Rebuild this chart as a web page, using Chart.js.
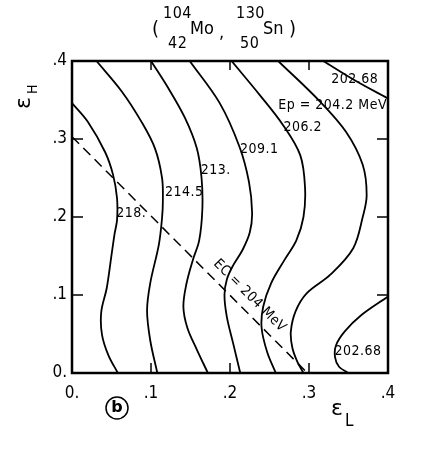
<!DOCTYPE html>
<html>
<head>
<meta charset="utf-8">
<script src="https://cdn.jsdelivr.net/npm/chart.js@4.4.0/dist/chart.umd.min.js"></script>
<style>
  html, body { margin: 0; padding: 0; background: #fff; }
  #wrap { width: 436px; height: 452px; }
</style>
</head>
<body>
<div id="wrap"><canvas id="chart" width="436" height="452"></canvas></div>
<script>
// --- Data (eps_L on x, eps_H on y) ---
const tickValues = [0, 0.1, 0.2, 0.3, 0.4];
const tickLabels = ['0.', '.1', '.2', '.3', '.4'];

const levels = ['218.', '214.5', '213.', '209.1', '206.2', 'Ep = 204.2 MeV', '202.68', '202.68'];

const c218L = [0, 0.020, 0.042, 0.052, 0.057, 0.057, 0.054, 0.050, 0.044, 0.037, 0.038, 0.046, 0.058];
const c218H = [0.346, 0.322, 0.283, 0.254, 0.224, 0.196, 0.179, 0.151, 0.109, 0.078, 0.049, 0.023, 0];

const c2145L = [0.031, 0.063, 0.088, 0.105, 0.114, 0.115, 0.114, 0.110, 0.099, 0.095, 0.099, 0.108];
const c2145H = [0.4, 0.361, 0.322, 0.288, 0.250, 0.220, 0.199, 0.165, 0.115, 0.080, 0.042, 0];

const c213L = [0.100, 0.122, 0.143, 0.158, 0.164, 0.165, 0.161, 0.153, 0.145, 0.141, 0.146, 0.158, 0.172];
const c213H = [0.4, 0.365, 0.327, 0.288, 0.250, 0.210, 0.170, 0.145, 0.115, 0.085, 0.058, 0.030, 0];

const c2091L = [0.149, 0.187, 0.212, 0.224, 0.228, 0.225, 0.216, 0.204, 0.196, 0.193, 0.196, 0.204, 0.213];
const c2091H = [0.4, 0.346, 0.290, 0.245, 0.205, 0.180, 0.158, 0.138, 0.120, 0.100, 0.072, 0.038, 0];

const c2062L = [0.202, 0.238, 0.267, 0.289, 0.295, 0.293, 0.284, 0.269, 0.252, 0.242, 0.240, 0.247, 0.258];
const c2062H = [0.4, 0.356, 0.318, 0.279, 0.237, 0.200, 0.170, 0.145, 0.115, 0.085, 0.058, 0.027, 0];

const c2042L = [0.261, 0.314, 0.347, 0.368, 0.373, 0.368, 0.356, 0.327, 0.297, 0.283, 0.277, 0.279, 0.285, 0.293];
const c2042H = [0.4, 0.348, 0.309, 0.267, 0.228, 0.200, 0.160, 0.126, 0.102, 0.079, 0.053, 0.032, 0.015, 0];

const c20268aL = [0.318, 0.360, 0.4];
const c20268aH = [0.4, 0.374, 0.352];

const c20268bL = [0.4, 0.366, 0.345, 0.334, 0.333, 0.338, 0.350];
const c20268bH = [0.098, 0.074, 0.053, 0.035, 0.020, 0.008, 0];

// Coulomb energy line EC = 204 MeV
const ecL = [0, 0.298];
const ecH = [0.303, 0];

// where each contour value is written (data coords)
const labelL = [0.075, 0.142, 0.182, 0.237, 0.292, 0.330, 0.358, 0.362];
const labelH = [0.205, 0.232, 0.260, 0.287, 0.315, 0.343, 0.377, 0.028];

const zip = (xs, ys) => xs.map((x, i) => ({ x: x, y: ys[i] }));

const contours = [
    [c218L, c218H], [c2145L, c2145H], [c213L, c213H], [c2091L, c2091H],
    [c2062L, c2062H], [c2042L, c2042H], [c20268aL, c20268aH], [c20268bL, c20268bH]
];

const narrow = "'Liberation Sans Narrow', 'DejaVu Sans Condensed', sans-serif";

const datasets = contours.map((c, i) => ({
    label: levels[i],
    data: zip(c[0], c[1]),
    showLine: true,
    borderColor: '#000',
    borderWidth: 1.8,
    pointRadius: 0,
    tension: 0.35,
    fill: false
}));
datasets.push({
    label: 'EC = 204 MeV',
    data: zip(ecL, ecH),
    showLine: true,
    borderColor: '#000',
    borderWidth: 1.5,
    borderDash: [10, 6],
    pointRadius: 0,
    tension: 0,
    fill: false
});

// --- Extra drawing: frame, inner ticks, labels, titles ---
const decor = {
    id: 'decor',
    afterDatasetsDraw(chart) {
        const ctx = chart.ctx;
        const xs = chart.scales.x, ys = chart.scales.y;
        const a = chart.chartArea;
        ctx.save();
        ctx.strokeStyle = '#000';
        ctx.fillStyle = '#000';

        // frame
        ctx.lineWidth = 2.5;
        ctx.strokeRect(a.left, a.top, a.right - a.left, a.bottom - a.top);

        // inner ticks
        ctx.lineWidth = 1.5;
        ctx.beginPath();
        tickValues.slice(1, -1).forEach(v => {
            const px = xs.getPixelForValue(v), py = ys.getPixelForValue(v);
            ctx.moveTo(px, a.bottom); ctx.lineTo(px, a.bottom - 10);
            ctx.moveTo(px, a.top); ctx.lineTo(px, a.top + 9);
            ctx.moveTo(a.left, py); ctx.lineTo(a.left + 11, py);
            ctx.moveTo(a.right, py); ctx.lineTo(a.right - 11, py);
        });
        ctx.stroke();

        // contour values
        ctx.font = '14px ' + narrow;
        ctx.letterSpacing = '0.5px';
        ctx.textAlign = 'center';
        ctx.textBaseline = 'middle';
        levels.forEach((t, i) => {
            ctx.fillText(t, xs.getPixelForValue(labelL[i]), ys.getPixelForValue(labelH[i]));
        });

        // EC label along the dashed line
        const x0 = xs.getPixelForValue(ecL[0]), y0 = ys.getPixelForValue(ecH[0]);
        const x1 = xs.getPixelForValue(ecL[1]), y1 = ys.getPixelForValue(ecH[1]);
        const ang = Math.atan2(y1 - y0, x1 - x0);
        ctx.save();
        ctx.translate(xs.getPixelForValue(0.225), ys.getPixelForValue(0.099));
        ctx.rotate(ang);
        ctx.fillText('EC = 204 MeV', 0, 0);
        ctx.restore();
        ctx.letterSpacing = '0px';

        // axis titles
        ctx.textAlign = 'left';
        ctx.textBaseline = 'alphabetic';
        ctx.font = "22px 'DejaVu Sans', sans-serif";
        ctx.fillText('ε', 331, 415);
        ctx.font = '17px ' + narrow;
        ctx.fillText('L', 345, 426);

        ctx.save();
        ctx.translate(30, 109);
        ctx.rotate(-Math.PI / 2);
        ctx.font = "22px 'DejaVu Sans', sans-serif";
        ctx.fillText('ε', 0, 0);
        ctx.font = '14px ' + narrow;
        ctx.fillText('H', 15, 7);
        ctx.restore();

        // circled panel letter
        ctx.lineWidth = 1.5;
        ctx.beginPath();
        ctx.arc(117, 408, 11, 0, Math.PI * 2);
        ctx.stroke();
        ctx.textAlign = 'center';
        ctx.textBaseline = 'middle';
        ctx.font = "bold 16px 'DejaVu Sans', sans-serif";
        ctx.fillText('b', 117, 408);

        // reaction title ( 104/42 Mo , 130/50 Sn )
        ctx.textAlign = 'left';
        ctx.textBaseline = 'alphabetic';
        ctx.font = '20px ' + narrow;
        ctx.fillText('(', 152, 35);
        ctx.fillText(')', 289, 35);
        ctx.font = '18px ' + narrow;
        ctx.fillText('Mo', 190, 34);
        ctx.fillText(',', 219, 38);
        ctx.fillText('Sn', 263, 34);
        ctx.font = '16px ' + narrow;
        ctx.letterSpacing = '0.5px';
        ctx.fillText('104', 163, 18);
        ctx.fillText('42', 168, 48);
        ctx.fillText('130', 236, 18);
        ctx.fillText('50', 240, 48);
        ctx.letterSpacing = '0px';

        ctx.restore();
    }
};

new Chart(document.getElementById('chart'), {
    type: 'scatter',
    data: { datasets: datasets },
    options: {
        responsive: false,
        animation: false,
        devicePixelRatio: 1,
        layout: { padding: { left: 10, right: 48, top: 61, bottom: 49 } },
        plugins: { legend: { display: false }, tooltip: { enabled: false } },
        scales: {
            x: {
                type: 'linear', min: 0, max: 0.4,
                grid: { display: false, drawTicks: false },
                border: { display: false },
                afterFit: s => { s.height = 30; },
                ticks: {
                    stepSize: 0.1, padding: 10, color: '#000',
                    font: { family: narrow, size: 17 },
                    callback: v => tickLabels[tickValues.findIndex(t => Math.abs(t - v) < 1e-6)]
                }
            },
            y: {
                type: 'linear', min: 0, max: 0.4,
                grid: { display: false, drawTicks: false },
                border: { display: false },
                afterFit: s => { s.width = 62; },
                ticks: {
                    stepSize: 0.1, padding: 5, color: '#000',
                    font: { family: narrow, size: 17 },
                    callback: v => tickLabels[tickValues.findIndex(t => Math.abs(t - v) < 1e-6)]
                }
            }
        }
    },
    plugins: [decor]
});
</script>
</body>
</html>
